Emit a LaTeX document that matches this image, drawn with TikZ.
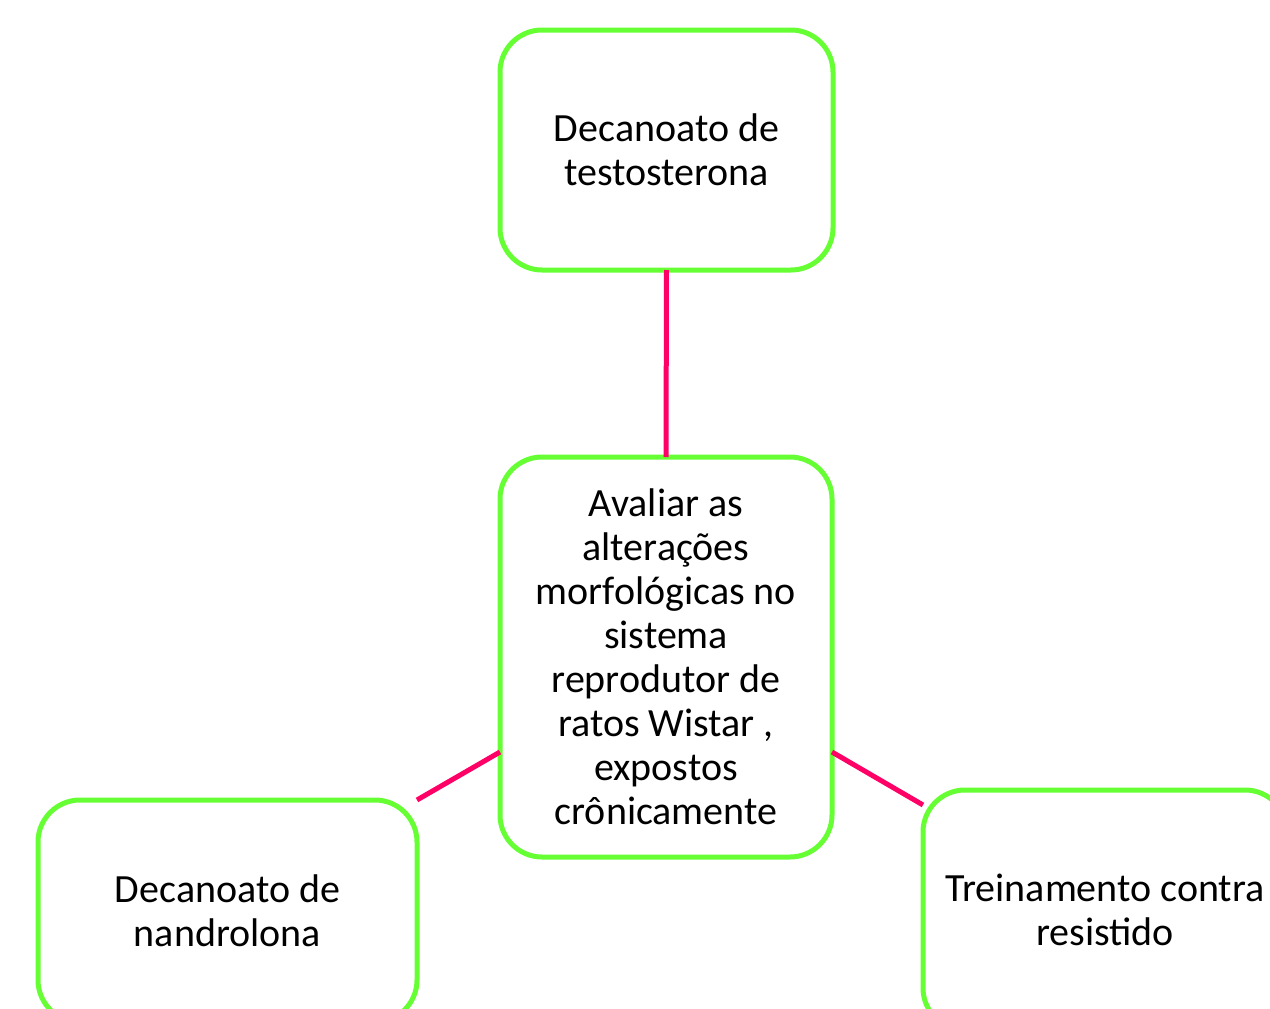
\documentclass[tikz,border=0pt]{standalone}
\usepackage{fontspec}
\setmainfont{Carlito}
\usetikzlibrary{calc}
\definecolor{boxgreen}{RGB}{102,255,51}
\definecolor{linkpink}{RGB}{255,0,102}
\begin{document}
\begin{tikzpicture}[x=1pt,y=-1pt,
  box/.style={draw=boxgreen, line width=5pt, rounded corners=42pt, fill=white,
    align=center, inner sep=0pt, outer sep=0pt, font=\fontsize{40}{44}\selectfont},
  link/.style={draw=linkpink, line width=5pt}]
\useasboundingbox (0,0) rectangle (1270,1009);
\clip (0,0) rectangle (1270,1009);
\node[box, minimum width=333pt, minimum height=240pt] (top) at (666.5,150) {Decanoato de\\testosterona};
\node[box, minimum width=332pt, minimum height=400pt] (center) at (666,657)
  {Avaliar as\\alterações\\morfológicas no\\sistema\\reprodutor de\\ratos Wistar ,\\expostos\\crônicamente};
\node[box, minimum width=379pt, minimum height=222pt] (left) at (227.5,911) {Decanoato de\\nandrolona};
\node[box, minimum width=364pt, minimum height=240pt] (right) at (1105,910) {Treinamento contra\\resistido};
\draw[link] (top.south) -- (center.north);
\draw[link] ($(center.west)+(0,95)$) -- (left.north east);
\draw[link] ($(center.east)+(0,95)$) -- ($(right.north west)+(0,15)$);
\end{tikzpicture}
\end{document}
